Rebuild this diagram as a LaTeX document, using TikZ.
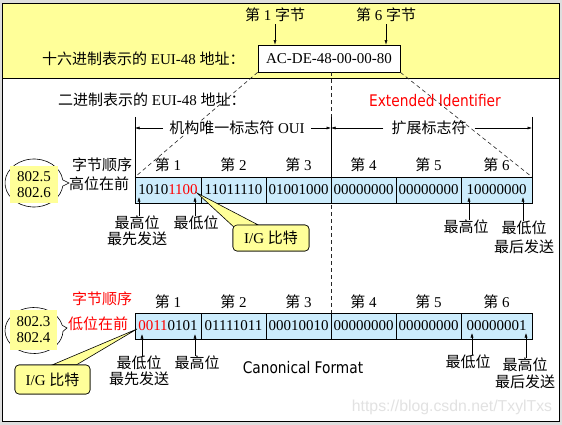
\documentclass[tikz,border=0pt]{standalone}
\usepackage{fontspec}
\setmainfont{Liberation Serif}
\newfontfamily\cjk{Noto Sans CJK SC}
\newfontfamily\tah[FakeStretch=0.86]{DejaVu Sans}
\newfontfamily\lsans{Liberation Sans}
\usetikzlibrary{shapes.callouts,arrows.meta}
\definecolor{ylw}{RGB}{255,255,153}
\definecolor{byteblue}{RGB}{204,236,252}
\definecolor{bggray}{RGB}{222,222,222}
\definecolor{wm}{RGB}{226,226,226}
\newcommand\zh[1]{{\cjk #1}}
\newcommand\fs{\fontsize{15}{16}\selectfont}
\begin{document}
\begin{tikzpicture}[x=1pt,y=-1pt,
  every node/.style={inner sep=0pt,font=\fs},
  bytecell/.style={draw,fill=byteblue,minimum height=26pt,inner sep=0pt,line width=0.6pt},
  arr/.style={-{Latex[length=4.5pt,width=3pt]},line width=0.5pt},
  dsh/.style={dash pattern=on 4pt off 3pt,line width=0.6pt,black!85},
  lbl/.style={align=center},
  igbox/.style={draw,fill=ylw,rounded corners=4pt,line width=0.6pt},
  ell/.style={ellipse callout,draw,fill=white,line width=0.6pt},
  yrect/.style={fill=ylw,align=center},
  sanslbl/.style={font=\tah\fontsize{16}{18}\selectfont},
]
\useasboundingbox (0,0) rectangle (562,425);
\fill[bggray] (0,0) rectangle (562,425);
\fill[white] (2,3) rectangle (559,421);
\fill[ylw] (2,3) rectangle (559,78);
\draw[line width=0.8pt] (2,78) -- (559,78);
\draw[line width=0.8pt] (2,3) rectangle (559,421);

% ---- top: hex address
\node (b1) at (275,15) {\zh{第} 1 \zh{字节}};
\node (b6) at (386,15) {\zh{第} 6 \zh{字节}};
\node[draw,fill=white,minimum width=142pt,minimum height=27pt,line width=0.6pt] (hex) at (329,58.5) {AC-DE-48-00-00-80};
\node[anchor=west] (hexlbl) at (42,59) {\zh{十六进制表示的} EUI-48 \zh{地址：}};
\draw[arr,shorten <=2pt] (b1.south) -- (b1.south |- hex.north);
\draw[arr,shorten <=2pt] (b6.south) -- (b6.south |- hex.north);

% ---- binary caption
\node[anchor=west] (binlbl) at (58,100) {\zh{二进制表示的} EUI-48 \zh{地址：}};
\node[sanslbl,text=red] (extid) at (435,101) {Extended Identifier};

% ---- coordinates for bracket lines
\coordinate (vL) at (135,117);
\coordinate (vM) at (331,117);
\coordinate (vR) at (532,117);
\coordinate (r1nw) at (135,177);
\coordinate (r1m) at (331,177);
\coordinate (r1ne) at (532,177);
\coordinate (r2m) at (331,313);

% dashed guides
\draw[dsh] (hex.south west) -- (r1nw);
\draw[dsh] (hex.south -| vM) -- (r2m);
\draw[dsh] (hex.south east) -- (r1ne);

% solid bracket lines
\draw[line width=0.6pt] (vL) -- (r1nw);
\draw[line width=0.6pt] (vM) -- (r1m);
\draw[line width=0.6pt] (vR) -- (r1ne);

\node[inner xsep=6pt,fill=white] (oui) at (237,128) {\zh{机构唯一标志符} OUI};
\draw[arr] (oui.west) -- (oui.west -| vL);
\draw[arr] (oui.east) -- (oui.east -| vM);
\node[inner xsep=8pt] (ext) at (429,128) {\zh{扩展标志符}};
\draw[arr] (ext.west) -- (ext.west -| vM);
\draw[arr] (ext.east) -- (ext.east -| vR);

% ---- row 1
\node[bytecell,minimum width=66pt] (r1c1) at (168,190) {1010\textcolor{red}{1100}};
\node[bytecell,minimum width=65pt] (r1c2) at (233.5,190) {11011110};
\node[bytecell,minimum width=65pt] (r1c3) at (298.5,190) {01001000};
\node[bytecell,minimum width=65pt] (r1c4) at (363.5,190) {00000000};
\node[bytecell,minimum width=65pt] (r1c5) at (428.5,190) {00000000};
\node[bytecell,minimum width=71pt] (r1c6) at (496.5,190) {10000000};
\foreach \i in {1,...,6} {\node (h1\i) at (r1c\i.center |- 0,165) {\zh{第} \i};}

\node (ord1) at (102,165) {\zh{字节顺序}};
\node (hi1) at (99,184) {\zh{高位在前}};
\node[ell,minimum width=58pt,minimum height=48pt,callout absolute pointer={(69,183)}] (e1) at (34,183) {};
\node[yrect,minimum width=48pt,minimum height=37pt] (y1) at (34,184.5) {802.5\\802.6};

% I/G callout row 1
\coordinate (ig1tip) at (197,193);
\node[igbox,minimum width=76pt,minimum height=26pt] (ig1) at (271,238) {};
\filldraw[fill=ylw,line width=0.6pt] (ig1tip) -- ([shift={(3,4)}]ig1.north west) -- ([shift={(25,0)}]ig1.north west) -- cycle;
\node[igbox,minimum width=76pt,minimum height=26pt] (ig1b) at (271,238) {I/G \zh{比特}};

% labels row 1
\node[lbl] (l11) at (137,231) {\zh{最高位}\\\zh{最先发送}};
\node (l12) at (196,223) {\zh{最低位}};
\node (l13) at (466,227) {\zh{最高位}};
\node[lbl,font=\fontsize{15}{19}\selectfont] (l14) at (524,237.5) {\zh{最低位}\\\zh{最后发送}};
\coordinate (t11) at (139,197);
\coordinate (t12) at (195,197);
\coordinate (t13) at (469,197);
\coordinate (t14) at (523,197);
\draw[arr] (l11.north -| t11) -- (t11);
\draw[arr] (l12.north -| t12) -- (t12);
\draw[arr] (l13.north -| t13) -- (t13);
\draw[arr] (l14.north -| t14) -- (t14);

% ---- row 2
\node[bytecell,minimum width=66pt] (r2c1) at (168,326) {\textcolor{red}{0011}0101};
\node[bytecell,minimum width=65pt] (r2c2) at (233.5,326) {01111011};
\node[bytecell,minimum width=65pt] (r2c3) at (298.5,326) {00010010};
\node[bytecell,minimum width=65pt] (r2c4) at (363.5,326) {00000000};
\node[bytecell,minimum width=65pt] (r2c5) at (428.5,326) {00000000};
\node[bytecell,minimum width=71pt] (r2c6) at (496.5,326) {00000001};
\foreach \i in {1,...,6} {\node (h2\i) at (r2c\i.center |- 0,302) {\zh{第} \i};}

\node[text=red] (ord2) at (102,299) {\zh{字节顺序}};
\node[text=red] (lo2) at (98,324) {\zh{低位在前}};
\node[ell,minimum width=58pt,minimum height=46pt,callout absolute pointer={(67,328)}] (e2) at (34,330.5) {};
\node[yrect,minimum width=47pt,minimum height=40pt] (y2) at (33.5,330) {802.3\\802.4};

% I/G callout row 2
\coordinate (ig2tip) at (137,329);
\node[igbox,minimum width=75pt,minimum height=29pt] (ig2) at (52.5,379.5) {};
\filldraw[fill=ylw,line width=0.6pt] (ig2tip) -- ([shift={(38,0)}]ig2.north west) -- ([shift={(62,0)}]ig2.north west) -- cycle;
\node[igbox,minimum width=75pt,minimum height=29pt] (ig2b) at (52.5,379.5) {I/G \zh{比特}};

% labels row 2
\node[lbl] (l21) at (139,371) {\zh{最低位}\\\zh{最先发送}};
\node (l22) at (197,363) {\zh{最高位}};
\node[sanslbl] (canon) at (303,368) {Canonical Format};
\node (l23) at (468,362) {\zh{最低位}};
\node[lbl,font=\fontsize{15}{17}\selectfont] (l24) at (525,373.5) {\zh{最高位}\\\zh{最后发送}};
\coordinate (t21) at (142,334);
\coordinate (t22) at (195,334);
\coordinate (t23) at (472,333);
\coordinate (t24) at (526,333);
\draw[arr] (l21.north -| t21) -- (t21);
\draw[arr] (l22.north -| t22) -- (t22);
\draw[arr] (l23.north -| t23) -- (t23);
\draw[arr] (l24.north -| t24) -- (t24);

% watermark
\node[font=\lsans\fontsize{15.8}{18}\selectfont,text=wm] (wmk) at (452,407) {https://blog.csdn.net/TxylTxs};
\end{tikzpicture}
\end{document}
